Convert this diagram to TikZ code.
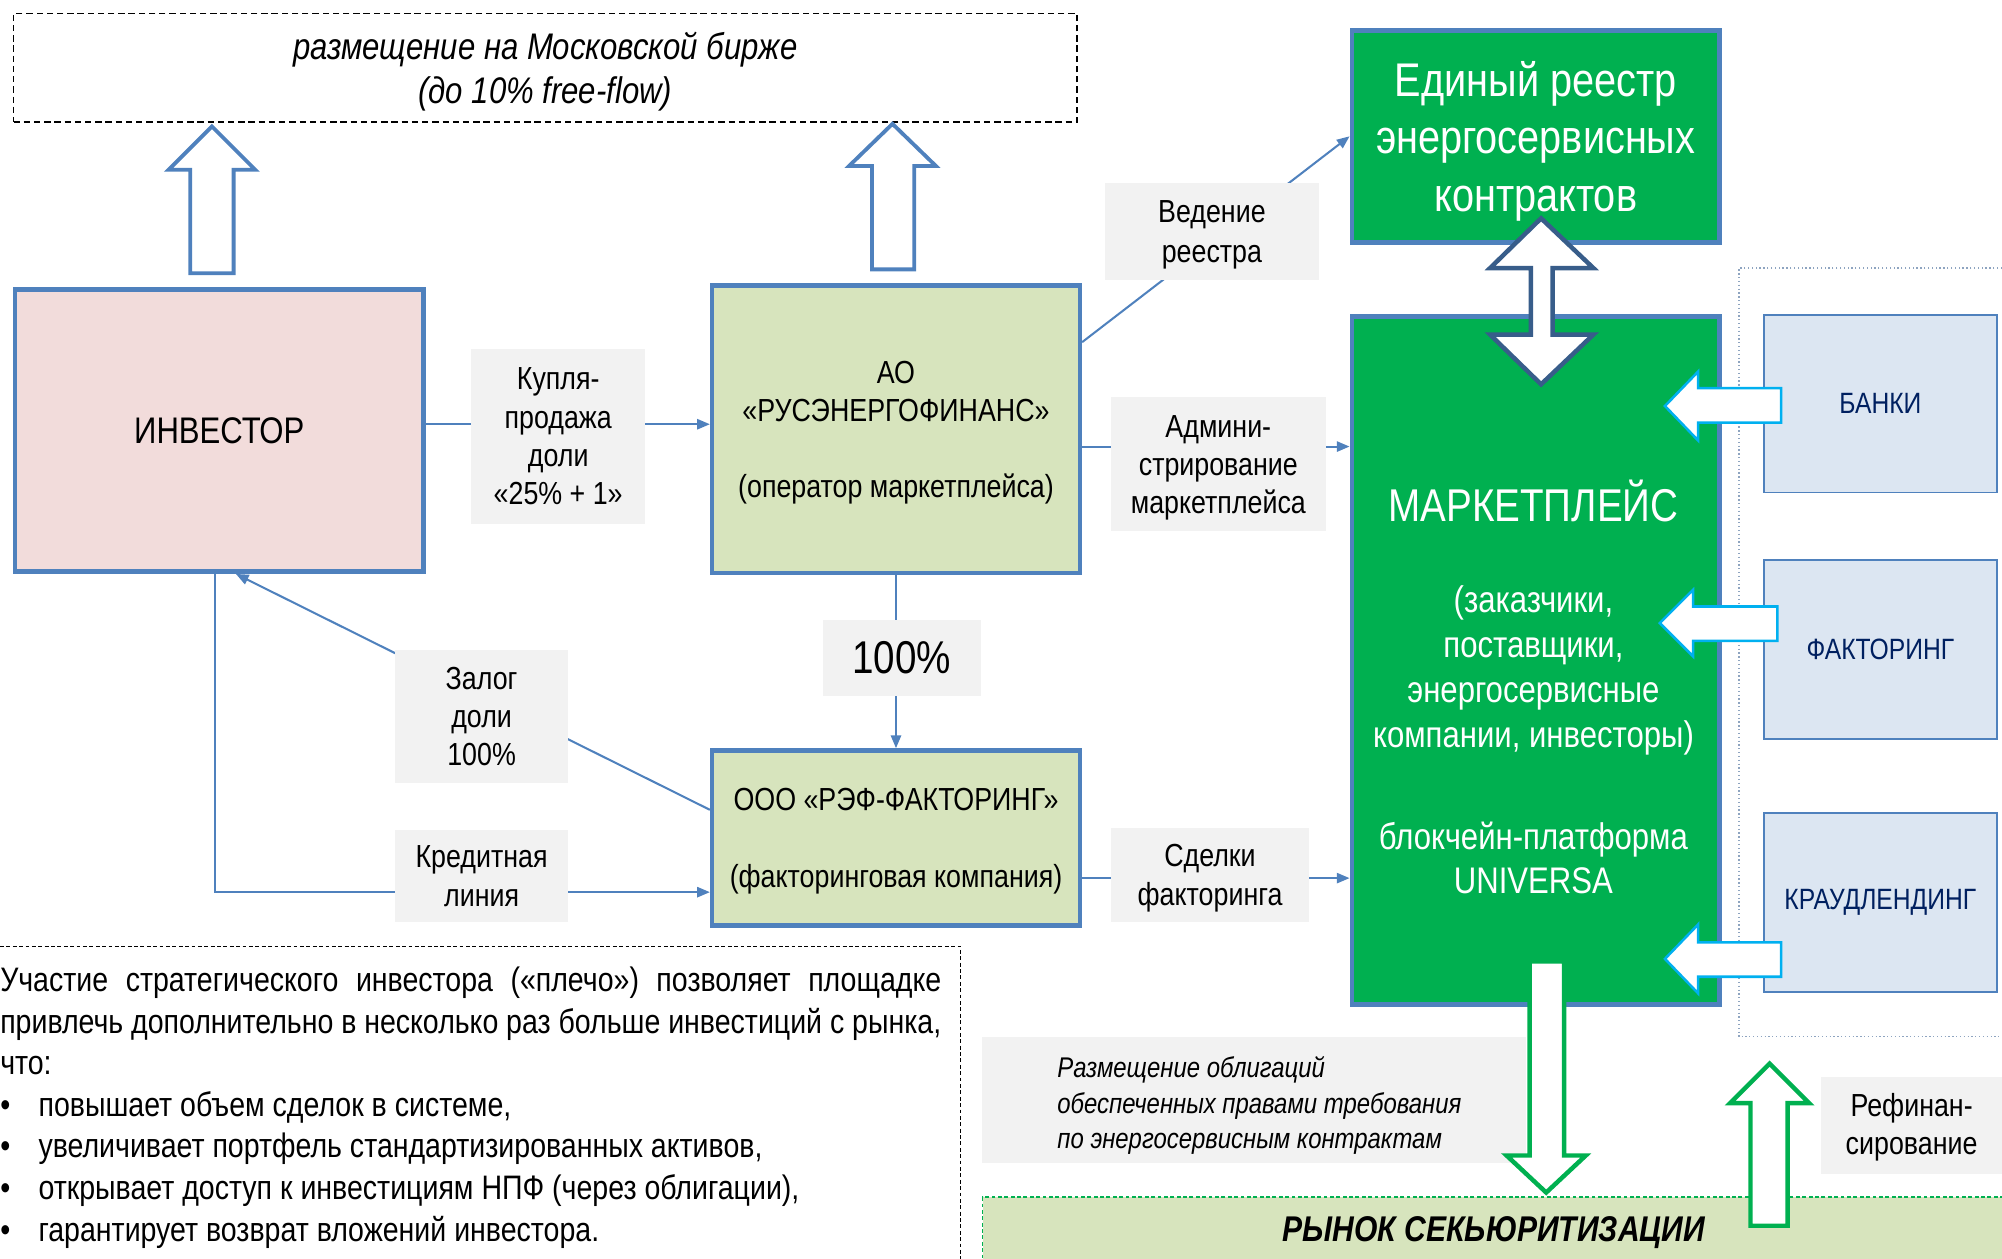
\documentclass[tikz,border=0pt]{standalone}
\usepackage{fontspec}
\setmainfont{Liberation Sans}[FakeStretch=0.84]
\usetikzlibrary{arrows.meta,calc}
\definecolor{bordblue}{HTML}{4F81BD}
\definecolor{pinkfill}{HTML}{F2DCDB}
\definecolor{olivefill}{HTML}{D7E4BD}
\definecolor{greenfill}{HTML}{00B050}
\definecolor{lbluefill}{HTML}{DCE6F2}
\definecolor{navytext}{HTML}{002060}
\definecolor{cyanline}{HTML}{00B0F0}
\definecolor{darkblue}{HTML}{385D8A}
\definecolor{lgray}{HTML}{F2F2F2}
\definecolor{dotcol}{HTML}{8EA4C0}
\newcommand{\FS}[2]{\fontsize{#1}{#2}\selectfont}
\begin{document}
\begin{tikzpicture}[x=1pt,y=-1pt,
  conn/.style={draw=bordblue, line width=1.6pt, -{Triangle[length=10pt,width=8pt]}},
  box/.style={draw=bordblue, line width=3.5pt, anchor=north west, inner sep=0pt, align=center},
  lbl/.style={fill=lgray, anchor=north west, inner sep=0pt, align=center, font=\FS{25}{30}},
  bluebox/.style={draw=bordblue, line width=1.5pt, fill=lbluefill, anchor=north west, inner sep=0pt, text=navytext, font=\FS{23}{28}, minimum width=182pt, minimum height=140pt},
  barrow/.style={draw=bordblue, fill=white, line width=3pt, line join=miter},
  carrow/.style={draw=cyanline, fill=white, line width=2pt, line join=miter},
  garrow/.style={draw=greenfill, fill=white, line width=3.5pt, line join=miter},
  darrow/.style={draw=darkblue, fill=white, line width=3.5pt, line join=miter}]
\useasboundingbox (0,0) rectangle (1568,986);

% top dashed box
\node[draw, dash pattern=on 5pt off 3pt, line width=1.2pt, anchor=north west, minimum width=833pt, minimum height=85pt, inner sep=0pt, align=center, text depth=0pt, font=\itshape\FS{29}{34}] (top) at (10,10) {размещение на Московской бирже\\(до 10\% free-flow)};

% main boxes
\node[box, fill=pinkfill, minimum width=320pt, minimum height=221pt, font=\FS{29}{34}] (inv) at (10,225) {ИНВЕСТОР};
\node[box, fill=olivefill, minimum width=288pt, minimum height=225pt, text depth=0pt, font=\FS{25}{30}] (ao) at (556,222) {АО\\«РУСЭНЕРГОФИНАНС»\\[30pt](оператор маркетплейса)};
\node[box, fill=olivefill, minimum width=288pt, minimum height=137pt, text depth=-0.6pt, font=\FS{25}{30}] (ooo) at (556,586) {ООО «РЭФ-ФАКТОРИНГ»\\[31pt](факторинговая компания)};
\node[box, fill=greenfill, text=white, minimum width=288pt, minimum height=166pt, text depth=0pt, font=\FS{37}{45}] (reestr) at (1057,22) {Единый реестр\\энергосервисных\\контрактов};
\node[box, fill=greenfill, minimum width=288pt, minimum height=539pt] (market) at (1057,246) {};
\node[text=white, font=\FS{36}{40}] (mt1) at (1201,392) {МАРКЕТПЛЕЙС};
\node[text=white, align=center, font=\FS{29}{35.3}] (mt2) at (1201,525) {(заказчики,\\поставщики,\\энергосервисные\\компании, инвесторы)};
\node[text=white, align=center, font=\FS{29}{34}] (mt3) at (1201,672) {блокчейн-платформа\\UNIVERSA};

% up block arrows to top box
\draw[barrow] (149,214) -- (149,133) -- (132,133) -- (166,99) -- (200,133) -- (183,133) -- (183,214) -- cycle;
\draw[barrow] (683,211) -- (683,130) -- (665,130) -- (699,97) -- (733,130) -- (716,130) -- (716,211) -- cycle;

% connectors
\draw[conn] ($(inv.east)+(0,-5)$) coordinate (c1) -- (c1 -| ao.west);
\draw[conn] ($(ao.north east)+(0,46)$) -- (reestr.west);
\draw[conn] ($(ao.east)+(0,13.5)$) coordinate (c2) -- (c2 -| market.west);
\draw[conn] (ao.south) -- (ooo.north);
\draw[conn] ($(ooo.west)+(0,-22)$) -- ($(inv.south)+(13,0)$);
\draw[conn] ($(inv.south)+(-3,0)$) |- ($(ooo.west)+(0,42.5)$);
\draw[conn] ($(ooo.east)+(0,31.5)$) coordinate (c3) -- (c3 -| market.west);

% labels
\node[lbl, minimum width=136pt, minimum height=137pt, text depth=-3.5pt] (lbuy) at (369,273) {Купля-\\продажа\\доли\\«25\% + 1»};
\node[lbl, minimum width=168pt, minimum height=76pt, text depth=-4.7pt, font=\FS{25}{31}] (lreg) at (865,143) {Ведение\\реестра};
\node[lbl, minimum width=168pt, minimum height=105pt, text depth=-1.7pt] (ladm) at (870,311) {Админи-\\стрирование\\маркетплейса};
\node[lbl, minimum width=124pt, minimum height=60pt, font=\FS{36}{40}] (l100) at (644,485) {100\%};
\node[lbl, minimum width=136pt, minimum height=104pt, text depth=-2.5pt] (lzal) at (309,509) {Залог\\доли\\100\%};
\node[lbl, minimum width=136pt, minimum height=72pt, text depth=-4pt] (lkred) at (309,650) {Кредитная\\линия};
\node[lbl, minimum width=155pt, minimum height=74pt, text depth=-4.7pt] (lsdel) at (870,648) {Сделки\\факторинга};

% double arrow registry <-> marketplace
\draw[darrow] (1199,210) -- (1167,210) -- (1207,171) -- (1248,210) -- (1216,210) -- (1216,262) -- (1248,262) -- (1207,301) -- (1167,262) -- (1199,262) -- cycle;

% right dotted region and financing boxes
\draw[dotted, draw=dotcol, line width=1pt] (1580,210) -- (1362,210) -- (1362,812) -- (1580,812);
\node[bluebox, minimum height=139pt] (banks) at (1381,246) {БАНКИ};
\node[bluebox] (fact) at (1381,438) {ФАКТОРИНГ};
\node[bluebox] (crowd) at (1381,636) {КРАУДЛЕНДИНГ};
\draw[carrow] (1304,318) -- (1330,291) -- (1330,304) -- (1395,304) -- (1395,331) -- (1330,331) -- (1330,345) -- cycle;
\draw[carrow] (1300,488) -- (1326,462) -- (1326,475) -- (1392,475) -- (1392,502) -- (1326,502) -- (1326,514) -- cycle;
\draw[carrow] (1304,751) -- (1330,724) -- (1330,738) -- (1395,738) -- (1395,765) -- (1330,765) -- (1330,778) -- cycle;

% securitization market
\node[fill=olivefill, draw=greenfill, dash pattern=on 3pt off 2pt, line width=1.2pt, anchor=north west, minimum width=830pt, minimum height=80pt, inner sep=0pt] (rynok) at (769,937) {};
\node[font=\bfseries\itshape\FS{28}{32}] (rynoktxt) at (1170,965) {РЫНОК СЕКЬЮРИТИЗАЦИИ};
\node[fill=lgray, anchor=north west, minimum width=426pt, minimum height=99pt, inner sep=0pt] (bonds) at (769,812) {};
\node[anchor=west, align=left, inner sep=0pt, font=\itshape\FS{22.3}{27.7}] (bondstxt) at (828,866) {Размещение облигаций\\обеспеченных правами требования\\по энергосервисным контрактам};
\node[lbl, minimum width=142pt, minimum height=76pt, text depth=2.3pt] (lrefin) at (1426,843) {Рефинан-\\сирование};
\draw[garrow] (1198,753) -- (1225,753) -- (1225,905) -- (1242,905) -- (1211,934) -- (1180,905) -- (1198,905) -- cycle;
\draw[garrow] (1371,960) -- (1371,864) -- (1355,864) -- (1386,833) -- (1417,864) -- (1400,864) -- (1400,960) -- cycle;

% bottom-left text box
\draw[dash pattern=on 3pt off 2pt, line width=0.8pt] (-5,741) -- (752,741) -- (752,990);
\node[anchor=north west, inner sep=0pt, align=left, font=\FS{26.6}{32.6}] (para) at (0,757) {\makebox[737pt][s]{Участие стратегического инвестора («плечо») позволяет площадке}\\\makebox[737pt][s]{привлечь дополнительно в несколько раз больше инвестиций с рынка,}\\что:\\\makebox[30pt][l]{•}повышает объем сделок в системе,\\\makebox[30pt][l]{•}увеличивает портфель стандартизированных активов,\\\makebox[30pt][l]{•}открывает доступ к инвестициям НПФ (через облигации),\\\makebox[30pt][l]{•}гарантирует возврат вложений инвестора.};
\end{tikzpicture}
\end{document}
